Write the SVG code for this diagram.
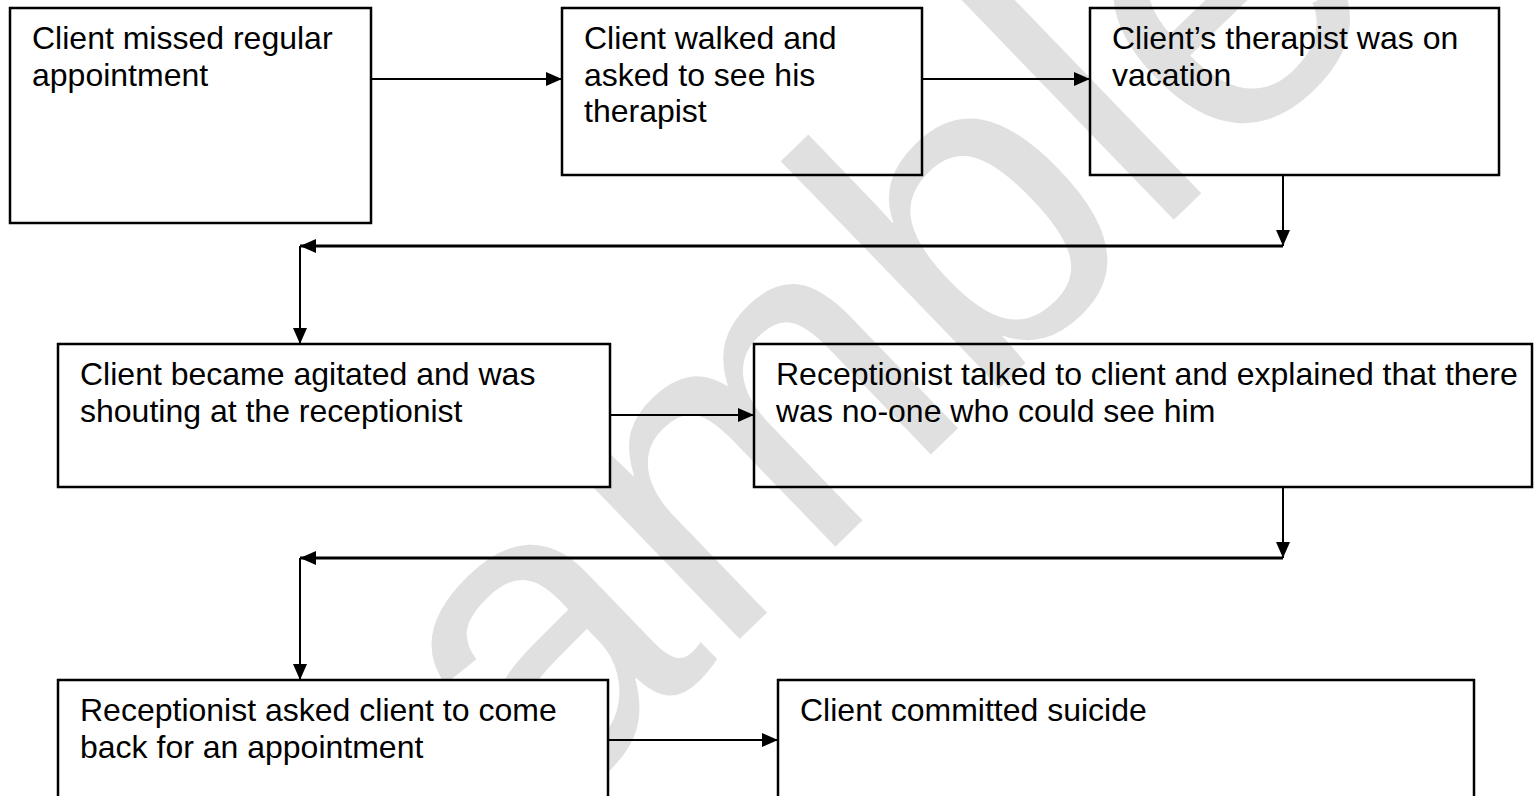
<svg xmlns="http://www.w3.org/2000/svg" width="1534" height="796" viewBox="0 0 1534 796">
<style>
.box{fill:none;stroke:#000;stroke-width:2.5}
.boxw{fill:#fff;stroke:#000;stroke-width:2.5}
.t{font-family:"Liberation Sans",Arial,sans-serif;font-size:32px;fill:#000}
.c{fill:none;stroke:#000;stroke-width:2}
.c3{fill:none;stroke:#000;stroke-width:3}
.wm{font-family:"Liberation Sans",Arial,sans-serif;font-size:435px;fill:#e0e0e0}
</style>
<defs>
<marker id="ah" markerUnits="userSpaceOnUse" markerWidth="16" markerHeight="14" refX="16" refY="7" orient="auto">
<path d="M0,0 L16,7 L0,14 Z" fill="#000"/>
</marker>
</defs>
<rect width="1534" height="796" fill="#fff"/>
<text class="wm" transform="translate(544,828) rotate(-44)">amble</text>
<g id="connectors">
<line class="c" x1="371" y1="79" x2="562" y2="79" marker-end="url(#ah)"/>
<line class="c" x1="922" y1="79" x2="1090" y2="79" marker-end="url(#ah)"/>
<line class="c" x1="1283" y1="175" x2="1283" y2="246" marker-end="url(#ah)"/>
<line class="c3" x1="1283" y1="246" x2="300" y2="246" marker-end="url(#ah)"/>
<line class="c" x1="300" y1="246" x2="300" y2="344" marker-end="url(#ah)"/>
<line class="c" x1="610" y1="415" x2="754" y2="415" marker-end="url(#ah)"/>
<line class="c" x1="1283" y1="487" x2="1283" y2="558" marker-end="url(#ah)"/>
<line class="c3" x1="1283" y1="558" x2="300" y2="558" marker-end="url(#ah)"/>
<line class="c" x1="300" y1="558" x2="300" y2="680" marker-end="url(#ah)"/>
<line class="c" x1="608" y1="740" x2="778" y2="740" marker-end="url(#ah)"/>
</g>
<g id="n1"><rect class="box" x="10" y="8" width="361" height="215"/><text class="t" x="32" y="49">Client missed regular</text><text class="t" x="32" y="86">appointment</text></g>
<g id="n2"><rect class="box" x="562" y="8" width="360" height="167"/><text class="t" x="584" y="49">Client walked and</text><text class="t" x="584" y="86">asked to see his</text><text class="t" x="584" y="122">therapist</text></g>
<g id="n3"><rect class="box" x="1090" y="8" width="409" height="167"/><text class="t" x="1112" y="49">Client’s therapist was on</text><text class="t" x="1112" y="86">vacation</text></g>
<g id="n4"><rect class="boxw" x="58" y="344" width="552" height="143"/><text class="t" x="80" y="385">Client became agitated and was</text><text class="t" x="80" y="422">shouting at the receptionist</text></g>
<g id="n5"><rect class="box" x="754" y="344" width="778" height="143"/><text class="t" x="776" y="385">Receptionist talked to client and explained that there</text><text class="t" x="776" y="422">was no-one who could see him</text></g>
<g id="n6"><rect class="boxw" x="58" y="680" width="550" height="140"/><text class="t" x="80" y="721">Receptionist asked client to come</text><text class="t" x="80" y="758">back for an appointment</text></g>
<g id="n7"><rect class="box" x="778" y="680" width="696" height="140"/><text class="t" x="800" y="721">Client committed suicide</text></g>
</svg>
